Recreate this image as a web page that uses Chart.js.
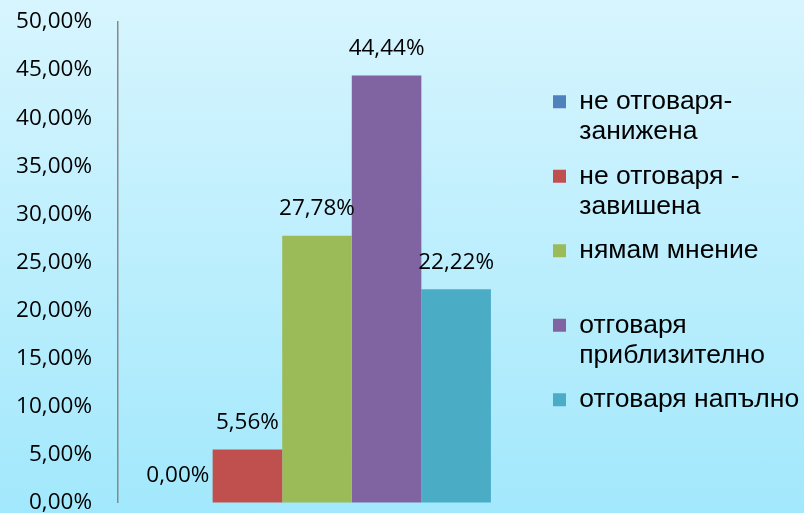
<!DOCTYPE html>
<html>
<head>
<meta charset="utf-8">
<script src="https://cdn.jsdelivr.net/npm/chart.js@4/dist/chart.umd.min.js"></script>
<style>
  html, body { margin: 0; padding: 0; }
  #wrap { width: 804px; height: 513px; background: linear-gradient(to bottom, #d7f5fe 0%, #a2e8fc 100%); }
  canvas { display: block; }
</style>
</head>
<body>
<div id="wrap"><canvas id="c" width="804" height="513"></canvas></div>
<script>
const categories = [''];
const seriesNames = [
  ['не отговаря-', 'занижена'],
  ['не отговаря -', 'завишена'],
  ['нямам мнение', ''],
  ['отговаря', 'приблизително'],
  ['отговаря напълно', '']
];
const seriesValues = [0.00, 5.56, 27.78, 44.44, 22.22];
const seriesColors = ['#4f81bd', '#c0504d', '#9bbb59', '#8064a2', '#4bacc6'];
const yTickMin = 0, yTickMax = 50, yTickStep = 5;

const fmt = v => v.toFixed(2).replace('.', ',') + '%';
const numFont = '"Open Sans", "DejaVu Sans", sans-serif';

const valueLabels = {
  id: 'valueLabels',
  afterDatasetsDraw(chart) {
    const ctx = chart.ctx;
    ctx.save();
    ctx.font = '22.5px ' + numFont;
    ctx.fillStyle = '#000';
    ctx.textAlign = 'center';
    ctx.textBaseline = 'middle';
    chart.data.datasets.forEach((ds, i) => {
      const meta = chart.getDatasetMeta(i);
      meta.data.forEach((bar, j) => {
        ctx.fillText(fmt(ds.data[j]), bar.x, bar.y - 27);
      });
    });
    ctx.restore();
  }
};

new Chart(document.getElementById('c'), {
  type: 'bar',
  data: {
    labels: categories,
    datasets: seriesNames.map((name, i) => ({
      label: name,
      data: [seriesValues[i]],
      backgroundColor: seriesColors[i],
      borderWidth: 0,
      categoryPercentage: 0.874,
      barPercentage: 1.0
    }))
  },
  options: {
    responsive: false,
    animation: false,
    devicePixelRatio: 1,
    layout: { padding: { top: 22, left: 0, right: 0, bottom: 0 } },
    plugins: {
      tooltip: { enabled: false },
      legend: {
        position: 'right',
        align: 'center',
        maxWidth: 265.5,
        labels: {
          boxWidth: 13,
          boxHeight: 13,
          padding: 14.5,
          color: '#000',
          font: { family: '"Liberation Sans", Arial, sans-serif', size: 26.5, lineHeight: 1.132 }
        }
      }
    },
    scales: {
      x: { display: false },
      y: {
        min: yTickMin,
        max: yTickMax,
        position: 'left',
        grid: { display: true, color: 'transparent', drawTicks: true, tickLength: 26, tickColor: 'transparent' },
        border: { display: true, color: '#888888', width: 1.5 },
        ticks: {
          stepSize: yTickStep,
          padding: 0,
          color: '#000',
          font: { family: numFont, size: 22.5, lineHeight: 0.9 },
          callback: v => fmt(v)
        },
        afterFit(s) { s.width = 118; }
      },
      y2: {
        position: 'right',
        display: true,
        grid: { display: false },
        border: { display: false },
        ticks: { display: false },
        afterFit(s) { s.width = 22.5; }
      }
    }
  },
  plugins: [valueLabels]
});
</script>
</body>
</html>
